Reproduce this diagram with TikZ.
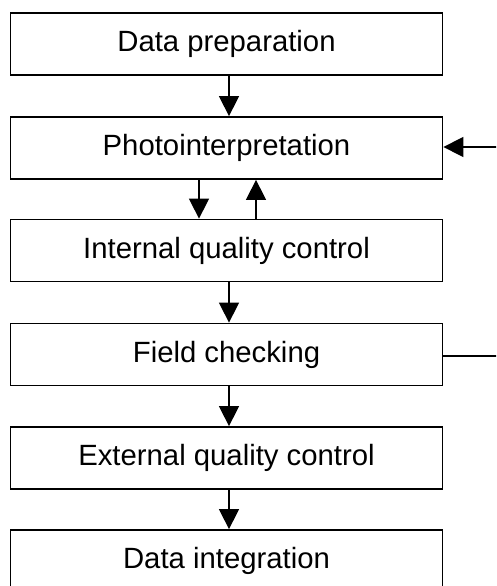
\documentclass[tikz,border=0pt]{standalone}
\usepackage{fontspec}
\setmainfont{Liberation Sans}
\usetikzlibrary{arrows.meta}
\begin{document}
\begin{tikzpicture}[x=1pt,y=-1pt,
  stepbox/.style={draw, line width=1.8pt, minimum width=432pt, minimum height=62pt, inner sep=0pt,
    font=\fontsize{29.3}{34}\selectfont},
  arr/.style={line width=1.5pt, -{Triangle[length=20pt,width=20pt]}},
  plain/.style={line width=1.5pt}]
\useasboundingbox (0,0) rectangle (496,586);
\clip (0,0) rectangle (496,586);
\node[stepbox] (b1) at (226.5,44) {Data preparation};
\node[stepbox] (b2) at (226.5,148) {Photointerpretation};
\node[stepbox] (b3) at (226.5,250.5) {Internal quality control};
\node[stepbox] (b4) at (226.5,354.5) {Field checking};
\node[stepbox] (b5) at (226.5,458) {External quality control};
\node[stepbox] (b6) at (226.5,561) {Data integration};
\coordinate (ax) at (229,0);
\coordinate (dx) at (199,0);
\coordinate (ux) at (256,0);
\coordinate (r1) at (497,147);
\coordinate (r2) at (497,356);
\draw[arr] (b1.south -| ax) -- (b2.north -| ax);
\draw[arr] (b2.south -| dx) -- (b3.north -| dx);
\draw[arr] (b3.north -| ux) -- (b2.south -| ux);
\draw[arr] (b3.south -| ax) -- (b4.north -| ax);
\draw[arr] (b4.south -| ax) -- (b5.north -| ax);
\draw[arr] (b5.south -| ax) -- (b6.north -| ax);
\draw[arr] (r1) -- (b2.east |- r1);
\draw[plain] (b4.east |- r2) -- (r2);
\end{tikzpicture}
\end{document}
